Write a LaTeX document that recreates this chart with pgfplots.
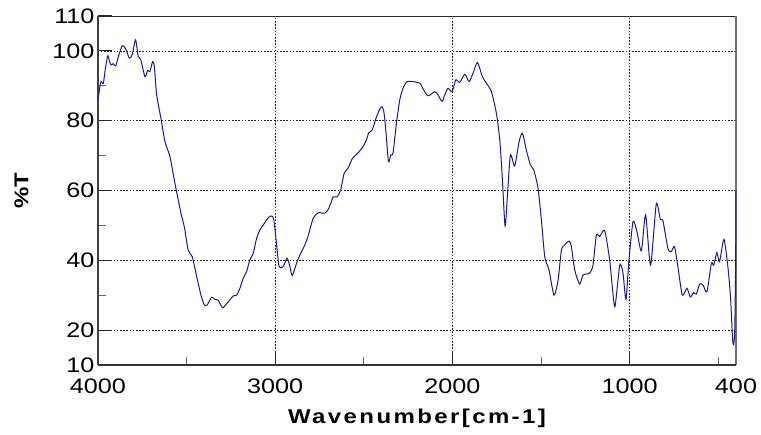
\documentclass[border=0pt]{standalone}
\usepackage{pgfplots}
\pgfplotsset{compat=1.18}
\usepackage{fontspec}
\setmainfont[FakeStretch=1.2]{Liberation Sans}
\definecolor{spec}{RGB}{25,25,150}

% FTIR transmittance spectrum (wavenumber in cm^-1, %T)
\pgfplotstableread{
wn T
4000 85.9
3990 89.5
3983 91.2
3970 90.7
3958 95.0
3945 98.6
3935 97.0
3927 96.0
3914 96.3
3900 95.7
3882 98.9
3863 101.5
3844 100.6
3823 97.9
3807 98.9
3788 103.2
3773 98.4
3758 97.4
3735 92.6
3720 94.4
3707 94.1
3692 96.9
3682 95.5
3669 87.4
3645 80.7
3622 74.0
3594 69.7
3566 62.1
3532 53.5
3513 49.6
3491 42.9
3468 41.0
3443 35.3
3419 30.0
3400 27.2
3384 27.2
3359 29.4
3340 28.8
3322 28.6
3297 26.4
3274 27.6
3256 28.6
3237 29.8
3218 30.0
3199 32.0
3181 34.8
3162 36.7
3143 40.1
3124 42.0
3105 46.3
3086 48.7
3068 50.1
3040 52.2
3021 52.7
3008 51.7
2993 44.9
2978 38.2
2955 38.2
2933 40.6
2917 38.2
2904 35.6
2880 39.1
2861 41.5
2833 44.4
2814 47.0
2786 52.0
2758 53.6
2720 53.5
2701 54.6
2683 56.8
2673 58.2
2651 58.2
2631 60.1
2611 64.9
2589 66.4
2564 69.2
2532 70.8
2504 72.6
2485 74.5
2472 76.6
2453 77.3
2428 81.2
2410 83.3
2397 84.0
2387 82.6
2376 77.3
2361 68.3
2348 70.2
2335 70.8
2316 79.3
2297 86.0
2279 89.3
2256 91.2
2222 91.2
2184 90.7
2162 88.8
2138 87.1
2100 88.3
2081 87.4
2059 85.5
2043 87.4
2025 89.3
2002 88.3
1981 91.7
1959 91.0
1930 93.3
1906 91.2
1884 93.6
1859 96.7
1831 92.6
1808 90.7
1780 88.3
1752 82.1
1733 74.5
1718 63.0
1703 49.8
1690 58.2
1673 70.2
1649 67.0
1624 74.0
1605 76.4
1583 71.6
1560 67.3
1541 65.9
1517 60.6
1498 51.5
1479 41.0
1455 37.2
1427 30.0
1404 34.3
1385 42.9
1367 44.4
1342 45.5
1329 43.9
1310 37.2
1282 33.2
1263 35.8
1226 36.3
1207 38.6
1188 47.2
1169 46.8
1141 48.5
1113 40.1
1098 32.4
1083 26.7
1056 38.6
1038 36.5
1021 28.8
1004 40.1
981 51.1
959 48.2
934 42.7
910 53.0
882 38.6
850 56.1
827 51.7
812 51.3
784 43.4
765 42.5
747 43.9
728 38.2
703 30.0
677 32.0
658 29.5
639 30.7
624 30.3
605 33.2
586 32.9
564 31.0
539 39.1
526 38.6
508 42.2
493 39.6
468 46.0
446 38.2
431 29.5
420 18.0
414 15.8
407 20.0
402 40.0
400 60.0
}\spectrum

\begin{document}
\begin{tikzpicture}
\begin{axis}[
  width=638pt, height=349pt, scale only axis,
  x dir=reverse,
  xmin=400, xmax=4000, ymin=10, ymax=110,
  xtick={4000,3000,2000,1000,400},
  ytick={10,20,40,60,80,100,110},
  minor xtick={3500,2500,1500,500},
  minor ytick={30,50,70,90},
  tick pos=left, tick align=inside,
  major tick length=14pt, minor tick length=8pt,
  major tick style={black!85, line width=1pt},
  minor tick style={black!60, line width=1pt},
  grid=major,
  major grid style={black!85, line width=0.7pt, dash pattern=on 1.6pt off 1.6pt},
  axis line style={draw=none},
  clip=false,
  /pgf/number format/assume math mode=true,
  /pgf/number format/1000 sep={},
  xticklabel style={font=\fontsize{21}{24}\selectfont, yshift=-10pt},
  yticklabel style={font=\fontsize{21}{24}\selectfont},
  xlabel={\addfontfeature{LetterSpace=12}Wavenumber[cm-1]},
  ylabel={\%T},
  xlabel style={font=\bfseries\fontsize{20}{24}\selectfont,
    at={(axis description cs:0.5,-0.126)}, anchor=north, inner sep=0pt},
  ylabel style={font=\bfseries\fontsize{20}{24}\selectfont,
    at={(axis description cs:-0.1199,0.5)}, anchor=center},
]
  % frame: heavy left/bottom, grey right, thin top
  \draw[black!85, line width=0.8pt] (rel axis cs:0,1) -- (rel axis cs:1,1);
  \draw[black!55, line width=2pt] (rel axis cs:1,0) -- (rel axis cs:1,1);
  \draw[black!75, line width=2pt] (rel axis cs:0,0) -- (rel axis cs:0,1);
  \draw[black!80, line width=2pt] (rel axis cs:0,0) -- (rel axis cs:1,0);
  \addplot[spec, line width=1pt, smooth, tension=0.4] table[x=wn, y=T] {\spectrum};
\end{axis}
\path ([xshift=-98pt,yshift=-70pt]current axis.south west)
  rectangle ([xshift=25pt,yshift=16pt]current axis.north east);
\end{tikzpicture}
\end{document}
